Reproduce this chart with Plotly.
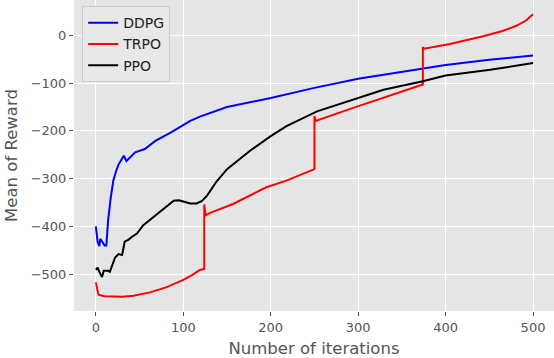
import plotly.graph_objects as go

# DDPG curve
ddpg_x = [0, 2, 4, 5, 7, 10, 12, 14, 17, 20, 23, 26, 30, 32, 35, 40, 45, 56, 68, 85,
          108, 119, 150, 200, 250, 300, 350, 400, 450, 500]
ddpg_y = [-400, -432, -441, -426, -431, -440, -440, -388, -340, -304, -285, -270, -258,
          -252, -263, -255, -245, -238, -221, -204, -179, -170, -150, -131, -110, -91,
          -76, -62, -51, -42]

# TRPO curve (jumps at 125, 250, 375)
trpo_x = [0, 3, 10, 20, 30, 43, 62, 81, 100, 110, 119, 124,
          124, 125.5, 130, 157, 195, 218, 250,
          250, 251.5, 291, 330, 374,
          374, 375.5, 405, 425, 443, 465, 481, 492, 500]
trpo_y = [-517, -543, -546, -547, -547, -545, -538, -527, -512, -502, -491, -489,
          -354, -377, -372, -353, -318, -304, -280,
          -169, -179, -154, -130, -103,
          -25, -28, -18, -10, -2, 9, 20, 31, 44]

# PPO curve
ppo_x = [0, 2, 4, 7, 9, 14, 16, 19, 22, 26, 30, 33, 37, 41, 47, 54, 66, 77, 89, 95,
         100, 108, 115, 121, 127, 133, 138, 150, 163, 176, 200, 218, 253, 300, 329, 374,
         400, 451, 500]
ppo_y = [-491, -486, -495, -506, -493, -493, -495, -480, -465, -458, -460, -432, -428,
         -422, -415, -398, -380, -363, -346, -345, -348, -352, -352, -347, -336, -320,
         -306, -280, -260, -242, -211, -190, -159, -131, -114, -96, -84, -72, -58]

x_ticks = [0, 100, 200, 300, 400, 500]
y_ticks = [0, -100, -200, -300, -400, -500]

fig = go.Figure()
fig.add_trace(go.Scatter(x=ddpg_x, y=ddpg_y, mode='lines', name='DDPG',
                         line=dict(color='#0000FF', width=2)))
fig.add_trace(go.Scatter(x=trpo_x, y=trpo_y, mode='lines', name='TRPO',
                         line=dict(color='#FF0000', width=2)))
fig.add_trace(go.Scatter(x=ppo_x, y=ppo_y, mode='lines', name='PPO',
                         line=dict(color='#000000', width=2)))

axis_common = dict(showgrid=True, gridcolor='white', gridwidth=1.3, zeroline=False,
                   ticks='outside', ticklen=4, tickcolor='#555555',
                   tickfont=dict(size=13, color='#555555'),
                   showline=False, automargin=False)

fig.update_layout(
    width=554, height=358,
    margin=dict(l=74, r=0, t=0, b=47),
    paper_bgcolor='white', plot_bgcolor='#E5E5E5',
    font=dict(family='DejaVu Sans', color='#555555'),
    xaxis=dict(range=[-25, 524], tickvals=x_ticks,
               title=dict(text='Number of iterations', font=dict(size=16.5, color='#555555'),
                          standoff=8),
               **axis_common),
    yaxis=dict(range=[-577, 74], tickvals=y_ticks,
               title=dict(text='Mean of Reward', font=dict(size=16.5, color='#555555'),
                          standoff=8),
               **axis_common),
    legend=dict(x=0.017, y=0.98, xanchor='left', yanchor='top',
                bgcolor='#E8E8E8', bordercolor='#CCCCCC', borderwidth=1,
                font=dict(size=14, color='#222222'), tracegroupgap=0),
    showlegend=True,
)

# page body has a default 8px margin; drop it so the figure sits at the corner
fig.write_html("out.html", config={'displayModeBar': False},
               post_script="document.body.style.margin='0';")
